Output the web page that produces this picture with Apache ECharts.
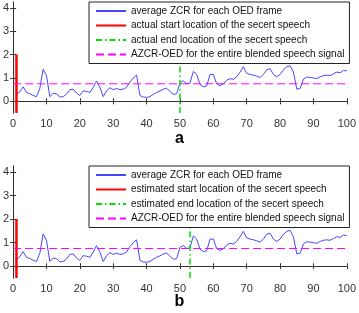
<!DOCTYPE html>
<html>
<head>
<meta charset="utf-8">
<script src="https://cdn.jsdelivr.net/npm/echarts@6/dist/echarts.min.js"></script>
<style>
    html, body { margin: 0; padding: 0; background: #fff; }
    #chart { width: 359px; height: 313px; }
</style>
</head>
<body>
<div id="chart"></div>
<script>
    // frame index 1..100
    var frames = [];
    for (var i = 1; i <= 100; i++) frames.push(i);

    // average ZCR for each OED frame
    var zcrValues = [
        0.30, 0.40, 0.62, 0.38, 0.33, 0.25, 0.20, 0.55, 1.37, 1.10,
        0.20, 0.34, 0.33, 0.18, 0.20, 0.30, 0.50, 0.52, 0.35, 0.25,
        0.45, 0.42, 0.38, 0.60, 0.87, 0.60, 0.20, 0.45, 0.58, 0.50,
        0.55, 0.50, 0.52, 0.60, 0.83, 1.00, 1.12, 0.25, 0.18, 0.17,
        0.20, 0.30, 0.38, 0.44, 0.52, 0.56, 0.42, 0.30, 0.32, 0.80,
        0.88, 0.75, 0.78, 1.28, 1.15, 0.72, 0.62, 0.65, 1.15, 1.15,
        0.75, 0.67, 0.75, 0.90, 0.97, 0.94, 1.05, 1.25, 1.48, 1.20,
        1.15, 1.12, 1.08, 1.02, 1.15, 1.35, 1.40, 1.15, 1.05, 1.15,
        1.35, 1.48, 1.52, 1.25, 0.52, 0.55, 0.95, 1.04, 1.02, 1.00,
        0.97, 1.05, 1.10, 1.12, 1.10, 1.18, 1.25, 1.22, 1.32, 1.30
    ];

    var azcrOed = 0.75;         // AZCR-OED level
    var startLoc = 1;           // start location of the secret speech
    var endLocActual = 50;      // actual end location
    var endLocEstimated = 53;   // estimated end location
    var startTop = 2;           // height of the start marker

    var xTicks = [0, 10, 20, 30, 40, 50, 60, 70, 80, 90, 100];
    var yTicks = [0, 1, 2, 3, 4];

    var panelLabels = ['a', 'b'];
    var legendNames = [
        ['average ZCR for each OED frame',
         'actual start location of the secert speech',
         'actual end location of the secert speech',
         'AZCR-OED for the entire blended speech signal'],
        ['average ZCR for each OED frame',
         'estimated start location of the secert speech',
         'estimated end location of the secert speech',
         'AZCR-OED for the entire blended speech signal']
    ];
    var endLocs = [endLocActual, endLocEstimated];

    var yMin = -0.5, yMax = 4.25;
    var font = '"Liberation Sans", Arial, sans-serif';
    var axisColor = '#333';

    var zcrData = frames.map(function (f, i) { return [f, zcrValues[i]]; });

    var grids = [
        {left: 11, top: 2, width: 339, height: 111},
        {left: 11, top: 166, width: 339, height: 112}
    ];

    var xAxes = [], yAxes = [], series = [], legends = [], titles = [];

    grids.forEach(function (g, gi) {
        xAxes.push({
            type: 'value', gridIndex: gi, position: 'bottom', min: 0, max: 100, interval: 10,
            axisLine: {lineStyle: {color: axisColor}},
            axisTick: {inside: true, length: 3, lineStyle: {color: axisColor}},
            axisLabel: {color: '#333', fontSize: 11, fontFamily: font, margin: 5},
            splitLine: {show: false}
        });
        xAxes.push({
            type: 'value', gridIndex: gi, position: 'top', min: 0, max: 100, interval: 10,
            axisLine: {lineStyle: {color: axisColor}},
            axisTick: {inside: true, length: 3, lineStyle: {color: axisColor}},
            axisLabel: {show: false},
            splitLine: {show: false}
        });
        yAxes.push({
            type: 'value', gridIndex: gi, position: 'left', min: yMin, max: yMax,
            axisLine: {show: true, lineStyle: {color: axisColor}},
            axisTick: {show: true, inside: true, length: 3, customValues: yTicks, lineStyle: {color: axisColor}},
            axisLabel: {color: '#333', fontSize: 11, fontFamily: font, margin: 4, customValues: yTicks},
            splitLine: {show: false}
        });
        yAxes.push({
            type: 'value', gridIndex: gi, position: 'right', min: yMin, max: yMax,
            axisLine: {show: true, lineStyle: {color: axisColor}},
            axisTick: {show: true, inside: true, length: 3, customValues: yTicks, lineStyle: {color: axisColor}},
            axisLabel: {show: false},
            splitLine: {show: false}
        });

        var xi = gi * 2, yi = gi * 2;
        var names = legendNames[gi];
        series.push({
            name: names[0], type: 'line', xAxisIndex: xi, yAxisIndex: yi,
            data: zcrData, symbol: 'none', silent: true,
            lineStyle: {color: '#4646ff', width: 1}, itemStyle: {color: '#4646ff'}
        });
        series.push({
            name: names[1], type: 'line', xAxisIndex: xi, yAxisIndex: yi,
            data: [[startLoc, yMin], [startLoc, startTop]], symbol: 'none', silent: true,
            lineStyle: {color: '#ff0000', width: 2.5}, itemStyle: {color: '#ff0000'}
        });
        series.push({
            name: names[2], type: 'line', xAxisIndex: xi, yAxisIndex: yi,
            data: [[endLocs[gi], yMin], [endLocs[gi], yMax]], symbol: 'none', silent: true,
            lineStyle: {color: '#00dd00', width: 1.5, type: [6, 3, 1.5, 3]}, itemStyle: {color: '#00dd00'}
        });
        series.push({
            name: names[3], type: 'line', xAxisIndex: xi, yAxisIndex: yi,
            data: [[0, azcrOed], [100, azcrOed]], symbol: 'none', silent: true,
            lineStyle: {color: '#ff00ff', width: 1, type: [8, 4]}, itemStyle: {color: '#ff00ff'}
        });

        legends.push({
            data: names, orient: 'vertical', left: 89, top: g.top,
            itemWidth: 30, itemHeight: 10, itemGap: 4.5,
            padding: [4, 5, 4, 6],
            backgroundColor: '#fff', borderColor: '#222', borderWidth: 1,
            selectedMode: false,
            itemStyle: {opacity: 0},
            textStyle: {color: '#111', fontSize: 10, fontFamily: font}
        });

        titles.push({
            text: panelLabels[gi], left: 'center', top: gi === 0 ? 131 : 294,
            padding: 0,
            textStyle: {color: '#000', fontSize: 16, fontWeight: 'bold', fontFamily: font}
        });
    });

    var myChart = echarts.init(document.getElementById('chart'));
    myChart.setOption({
        animation: false,
        title: titles,
        grid: grids,
        xAxis: xAxes,
        yAxis: yAxes,
        legend: legends,
        series: series
    });
</script>
</body>
</html>
